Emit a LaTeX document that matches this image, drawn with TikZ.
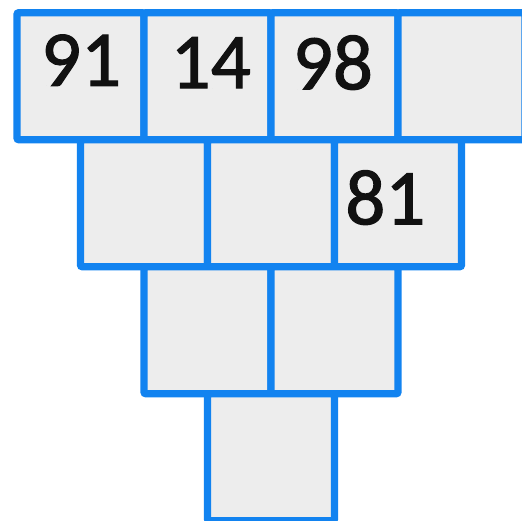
\documentclass[tikz,border=0pt]{standalone}
\usepackage{fontspec}
\setmainfont{Carlito}[BoldFont=Carlito, BoldFeatures={FakeBold=1.4}]
\definecolor{cellblue}{HTML}{1283F0}
\definecolor{cellgray}{HTML}{EDEDED}
\definecolor{numink}{HTML}{111111}
\begin{document}
\begin{tikzpicture}[x=0.5pt, y=-0.5pt,
    cell/.style={draw=cellblue, fill=cellgray, line width=3.7pt, rounded corners=1pt,
      minimum width=63.5pt, minimum height=63.5pt, inner sep=0pt, outer sep=0pt},
    num/.style={text=numink, font=\fontsize{39.5}{39.5}\selectfont\bfseries, inner sep=0pt}]
    \useasboundingbox (0,0) rectangle (521,521);

    % Top row
    \node[cell] (c11) at (80.5,76.2) {};
    \node[cell] (c12) at (207.5,76.2) {};
    \node[cell] (c13) at (334.5,76.2) {};
    \node[cell] (c14) at (461.5,76.2) {};

    % Second row
    \node[cell] (c21) at (144,203.2) {};
    \node[cell] (c22) at (271,203.2) {};
    \node[cell] (c23) at (398,203.2) {};

    % Third row
    \node[cell] (c31) at (207.5,330.2) {};
    \node[cell] (c32) at (334.5,330.2) {};

    % Bottom
    \node[cell] (c41) at (271,457.2) {};

    % Numbers
    \node[num] (n11) at ([xshift=0.3pt, yshift=8pt]c11.center) {91};
    \node[num] (n12) at ([xshift=1.6pt, yshift=6.8pt]c12.center) {14};
    \node[num] (n13) at ([xshift=-0.8pt, yshift=6.8pt]c13.center) {98};
    \node[num] (n23) at ([xshift=-6.3pt, yshift=2.8pt]c23.center) {81};
\end{tikzpicture}
\end{document}
